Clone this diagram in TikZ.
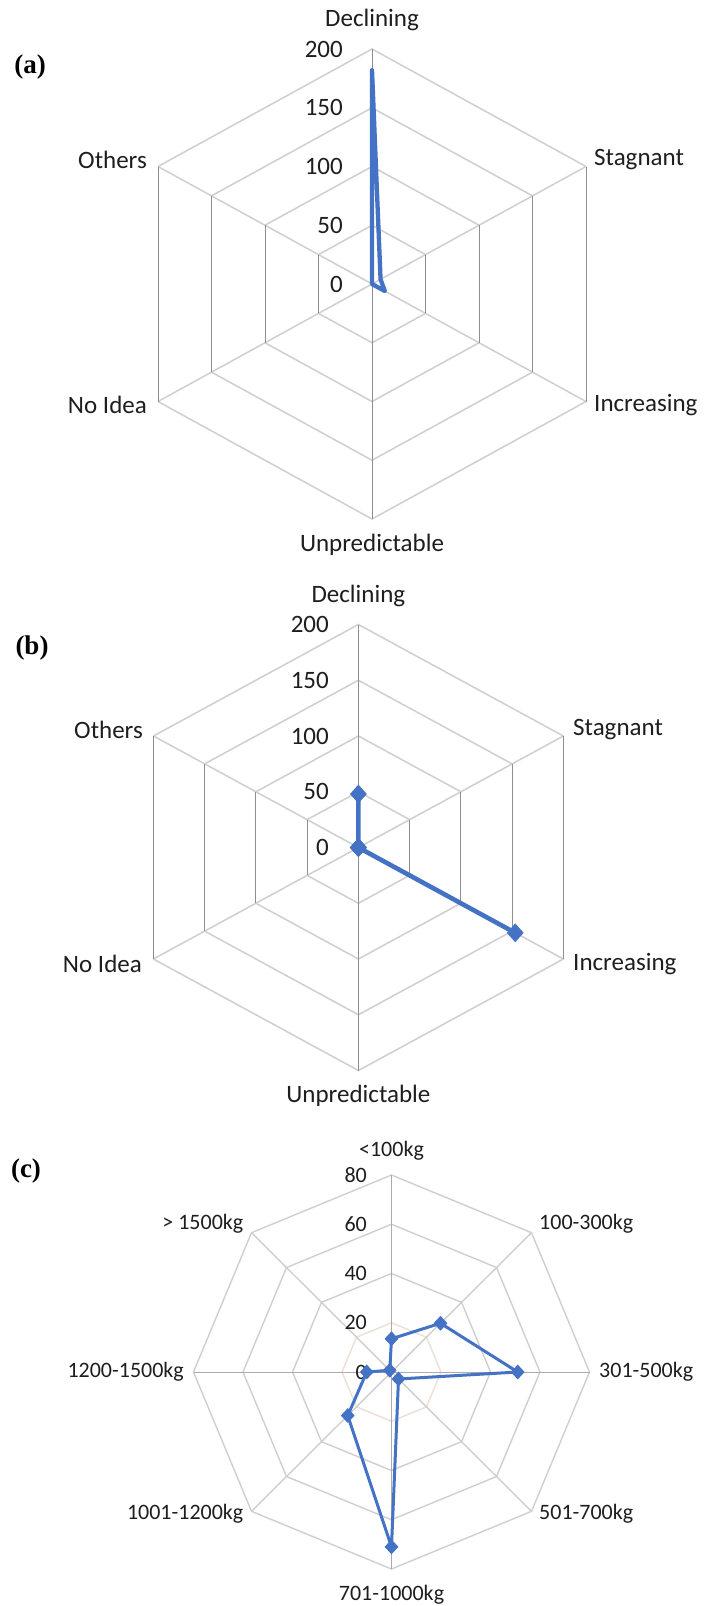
\documentclass[tikz,border=0pt]{standalone}
\usepackage{fontspec}
\setmainfont{Carlito}
\newfontfamily\panelfont{Liberation Serif}
\usetikzlibrary{shapes.geometric}
\definecolor{serblue}{HTML}{4472C4}
\definecolor{gridlt}{HTML}{CFCFCF}
\definecolor{griddk}{HTML}{8E8E8E}
\definecolor{gridmd}{HTML}{ABABAB}
\definecolor{gridor}{RGB}{238,222,212}
\definecolor{labtxt}{HTML}{1E1E1E}
\tikzset{
  diaggrid/.style={draw=gridlt, line width=1.5},
  vertgrid/.style={draw=griddk, line width=0.9},
  octgrid/.style={draw=gridlt, line width=1.4},
  spokegrid/.style={draw=gridmd, line width=1},
  catlab/.style={font=\fontsize{25}{30}\selectfont, text=labtxt, inner sep=0},
  smalllab/.style={font=\fontsize{22}{26}\selectfont, text=labtxt, inner sep=0},
  panellab/.style={font=\panelfont\bfseries\fontsize{27}{30}\selectfont, inner sep=0},
  seriesline/.style={draw=serblue, line width=4.3, line join=round, line cap=round},
  seriesthin/.style={draw=serblue, line width=3, line join=round},
  bigdiamond/.style={diamond, fill=serblue, inner sep=0, minimum width=17, minimum height=19},
  smalldiamond/.style={diamond, fill=serblue, inner sep=0, minimum width=14, minimum height=15},
}
\begin{document}
\begin{tikzpicture}[x=1pt,y=-1pt]
\useasboundingbox (0,0) rectangle (707,1606);
\fill[white] (0,0) rectangle (707,1606);

%%%%%%%%%%%%%%%% Panel (a)
\def\cx{372}\def\cy{284}\def\R{235}\def\X{247.1}
\coordinate (ac) at (\cx,\cy);
\foreach \k in {1,2,3,4}{
  \foreach \i in {0,...,5}{
    \coordinate (ar\k-\i) at ({\cx+\X*(\k/4)*sin(60*\i)},{\cy-\R*(\k/4)*cos(60*\i)});
  }
}
\foreach \k in {1,2,3,4}{
  \draw[diaggrid] (ar\k-5) -- (ar\k-0) -- (ar\k-1);
  \draw[diaggrid] (ar\k-2) -- (ar\k-3) -- (ar\k-4);
}
\foreach \i in {1,2,4,5} \draw[diaggrid] (ac) -- (ar4-\i);
\foreach \k in {1,2,3,4}{
  \draw[vertgrid] (ar\k-1) -- (ar\k-2);
  \draw[vertgrid] (ar\k-4) -- (ar\k-5);
}
\foreach \i in {0,3} \draw[vertgrid] (ac) -- (ar4-\i);
\foreach \v [count=\i from 0] in {182,8,12,0,0,0}
  \coordinate (ap\i) at ({\cx+\X*(\v/200)*sin(60*\i)},{\cy-\R*(\v/200)*cos(60*\i)});
\draw[seriesline] (ap0) -- (ap1) -- (ap2) -- (ap3) -- (ap4) -- (ap5) -- cycle;
\foreach \t [count=\k from 0] in {0,50,100,150,200}
  \node[catlab, anchor=east] (at\k) at (343,{\cy-\R*(\k/4)}) {\t};
\node[catlab] (aDecl) at (372,20) {Declining};
\node[catlab, anchor=west] (aStag) at (594,160) {Stagnant};
\node[catlab, anchor=west] (aIncr) at (594,405) {Increasing};
\node[catlab] (aUnpr) at (372,545) {Unpredictable};
\node[catlab, anchor=east] (aNoId) at (147,405) {No Idea};
\node[catlab, anchor=east] (aOthe) at (147,160) {Others};
\node[panellab] (alab) at (30,67) {(a)};

%%%%%%%%%%%%%%%% Panel (b)
\def\cx{358.4}\def\cy{847.5}\def\R{223}\def\X{236.7}
\coordinate (bc) at (\cx,\cy);
\foreach \k in {1,2,3,4}{
  \foreach \i in {0,...,5}{
    \coordinate (br\k-\i) at ({\cx+\X*(\k/4)*sin(60*\i)},{\cy-\R*(\k/4)*cos(60*\i)});
  }
}
\foreach \k in {1,2,3,4}{
  \draw[diaggrid] (br\k-5) -- (br\k-0) -- (br\k-1);
  \draw[diaggrid] (br\k-2) -- (br\k-3) -- (br\k-4);
}
\foreach \i in {1,2,4,5} \draw[diaggrid] (bc) -- (br4-\i);
\foreach \k in {1,2,3,4}{
  \draw[vertgrid] (br\k-1) -- (br\k-2);
  \draw[vertgrid] (br\k-4) -- (br\k-5);
}
\foreach \i in {0,3} \draw[vertgrid] (bc) -- (br4-\i);
\foreach \v [count=\i from 0] in {48,0,153,0,0,0}
  \coordinate (bp\i) at ({\cx+\X*(\v/200)*sin(60*\i)},{\cy-\R*(\v/200)*cos(60*\i)});
\draw[seriesline, line width=4.6] (bp0) -- (bp1) -- (bp2) -- (bp3) -- (bp4) -- (bp5) -- cycle;
\foreach \i in {0,...,5} \node[bigdiamond] (bm\i) at (bp\i) {};
\foreach \t [count=\k from 0] in {0,50,100,150,200}
  \node[catlab, anchor=east] (bt\k) at (329,{\cy-\R*(\k/4)}) {\t};
\node[catlab] (bDecl) at (358.4,596) {Declining};
\node[catlab, anchor=west] (bStag) at (573,730) {Stagnant};
\node[catlab, anchor=west] (bIncr) at (573,964) {Increasing};
\node[catlab] (bUnpr) at (358.4,1096) {Unpredictable};
\node[catlab, anchor=east] (bNoId) at (142,964) {No Idea};
\node[catlab, anchor=east] (bOthe) at (143,730) {Others};
\node[panellab] (blab) at (32,648) {(b)};

%%%%%%%%%%%%%%%% Panel (c)
\def\cx{391.5}\def\cy{1372}\def\R{197}\def\X{198}
\coordinate (cc) at (\cx,\cy);
\foreach \k in {1,2,3,4}{
  \foreach \i in {0,...,7}{
    \coordinate (cr\k-\i) at ({\cx+\X*(\k/4)*sin(45*\i)},{\cy-\R*(\k/4)*cos(45*\i)});
  }
}
\foreach \k in {2,3,4}
  \draw[octgrid] (cr\k-0) -- (cr\k-1) -- (cr\k-2) -- (cr\k-3) -- (cr\k-4) -- (cr\k-5) -- (cr\k-6) -- (cr\k-7) -- cycle;
\draw[octgrid, draw=gridor] (cr1-0) -- (cr1-1) -- (cr1-2) -- (cr1-3) -- (cr1-4) -- (cr1-5) -- (cr1-6) -- (cr1-7) -- cycle;
\foreach \i in {1,3,5,7} \draw[octgrid] (cc) -- (cr4-\i);
\foreach \i in {0,2,4,6} \draw[spokegrid] (cc) -- (cr4-\i);
\foreach \v [count=\i from 0] in {13.5,28,51,4,71,25,10,1}
  \coordinate (cp\i) at ({\cx+\X*(\v/80)*sin(45*\i)},{\cy-\R*(\v/80)*cos(45*\i)});
\foreach \t [count=\k from 0] in {0,20,40,60,80}
  \node[smalllab, anchor=east] (ct\k) at (367,{\cy-\R*(\k/4)}) {\t};
\draw[seriesthin] (cp0) -- (cp1) -- (cp2) -- (cp3) -- (cp4) -- (cp5) -- (cp6) -- (cp7) -- cycle;
\foreach \i in {0,...,7} \node[smalldiamond] (cm\i) at (cp\i) {};
\node[smalllab] (c0) at (391.5,1151) {<100kg};
\node[smalllab, anchor=west] (c1) at (539,1224) {100-300kg};
\node[smalllab, anchor=west] (c2) at (599,1372) {301-500kg};
\node[smalllab, anchor=west] (c3) at (539,1514) {501-700kg};
\node[smalllab] (c4) at (391.5,1595) {701-1000kg};
\node[smalllab, anchor=east] (c5) at (243.5,1514) {1001-1200kg};
\node[smalllab, anchor=east] (c6) at (184,1372) {1200-1500kg};
\node[smalllab, anchor=east] (c7) at (243.5,1224) {> 1500kg};
\node[panellab] (clab) at (26,1171) {(c)};
\end{tikzpicture}
\end{document}
